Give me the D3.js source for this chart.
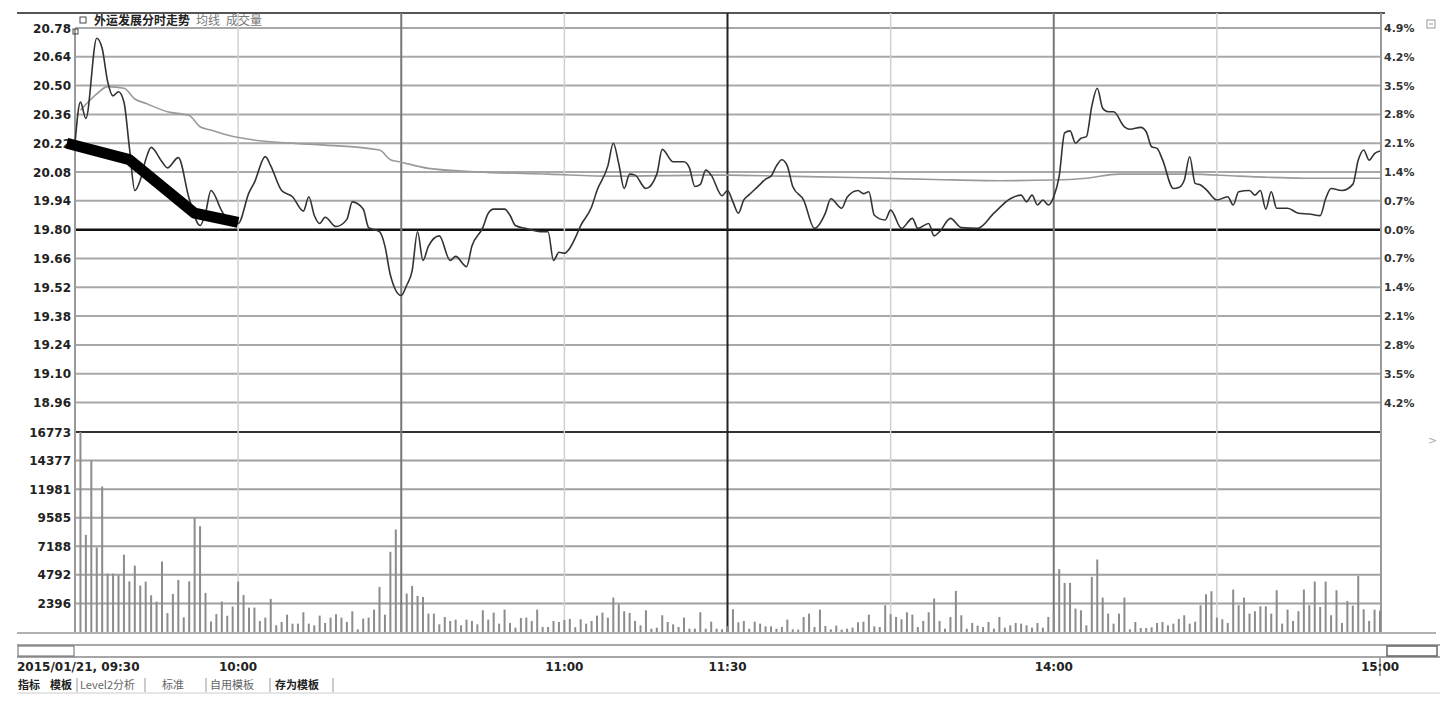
<!DOCTYPE html>
<html>
<head>
<meta charset="utf-8">
<script src="https://cdn.jsdelivr.net/npm/d3@7"></script>
<style>
  body { margin: 0; background: #fff; }
  svg text { font-family: "DejaVu Sans", sans-serif; }
</style>
</head>
<body>
<svg id="chart"></svg>
<script>
// ticks and labels
const priceTicks = [20.78, 20.64, 20.50, 20.36, 20.22, 20.08, 19.94, 19.80, 19.66, 19.52, 19.38, 19.24, 19.10, 18.96];
const pctLabels = ["4.9%", "4.2%", "3.5%", "2.8%", "2.1%", "1.4%", "0.7%", "0.0%", "0.7%", "1.4%", "2.1%", "2.8%", "3.5%", "4.2%"];
const prevClose = 19.80;
const volTicks = [16773, 14377, 11981, 9585, 7188, 4792, 2396];
const timeTicks = [0, 30, 90, 120, 180, 240];
const timeLabels = ["2015/01/21, 09:30", "10:00", "11:00", "11:30", "14:00", "15:00"];
// vertical grid: minute, kind
const vMinutes = [30, 60, 90, 120, 150, 180, 210];
const vKinds = ["light", "dark", "light", "black", "light", "dark", "light"];

// price line (trading minute from 09:30, price)
const priceMin = [0, 1, 2, 4, 5, 6, 7, 8, 9, 10, 11, 12, 13, 14, 16, 17, 19, 21, 23, 24, 25, 27, 28, 30,
  32, 33, 35, 36, 38, 40, 42, 43, 44, 45, 46, 48, 50, 51, 53, 54, 56, 57, 58, 60, 61, 62, 63, 64, 65, 67,
  69, 70, 72, 73, 75, 76, 77, 79, 80, 81, 83, 86, 87, 88, 89, 90, 91, 92, 93, 95, 96, 98, 99, 100, 101,
  102, 103, 105, 107, 108, 110, 112, 113, 114, 115, 116, 117, 119, 120, 121, 122, 123, 124, 126, 127,
  128, 129, 130, 131, 132, 134, 136, 138, 139, 141, 142, 144, 145, 146, 147, 149, 150, 152, 154, 155,
  157, 158, 159, 161, 163, 166, 169, 172, 174, 175, 176, 177, 178, 179, 180, 181, 182, 183, 184, 185,
  186, 187, 188, 189, 190, 191, 193, 194, 196, 197, 198, 199, 200, 202, 203, 204, 205, 206, 207, 208,
  210, 212, 213, 214, 216, 217, 218, 219, 220, 221, 223, 225, 227, 229, 230, 231, 233, 235, 236, 237,
  238, 239, 240];
const priceVal = [20.22, 20.42, 20.34, 20.73, 20.68, 20.52, 20.45, 20.47, 20.42, 20.20, 19.99, 20.04,
  20.14, 20.20, 20.13, 20.10, 20.15, 19.95, 19.82, 19.88, 19.99, 19.89, 19.85, 19.83,
  19.98, 20.03, 20.155, 20.11, 19.99, 19.96, 19.89, 19.96, 19.87, 19.83, 19.86, 19.815, 19.85, 19.935,
  19.90, 19.81, 19.79, 19.72, 19.58, 19.48, 19.53, 19.60, 19.79, 19.65, 19.72, 19.77,
  19.65, 19.67, 19.62, 19.72, 19.81, 19.88, 19.90, 19.90, 19.87, 19.82, 19.805, 19.79, 19.79, 19.65,
  19.69, 19.685, 19.71, 19.76, 19.82, 19.91, 19.99, 20.11, 20.22, 20.12, 20.00,
  20.07, 20.065, 20.00, 20.07, 20.19, 20.13, 20.13, 20.10, 20.01, 20.02, 20.09, 20.065, 19.965, 19.99,
  19.935, 19.88, 19.945, 19.97, 20.02, 20.046,
  20.06, 20.11, 20.14, 20.11, 20.01, 19.944, 19.806, 19.88, 19.95, 19.904, 19.957, 19.99, 19.975,
  19.984, 19.87, 19.847, 19.895, 19.806, 19.855, 19.806,
  19.83, 19.77, 19.79, 19.855, 19.81, 19.806, 19.88, 19.95, 19.968, 19.935, 19.968, 19.92, 19.944,
  19.92, 19.96, 20.06, 20.27, 20.28, 20.22, 20.244,
  20.252, 20.40, 20.487, 20.39, 20.373, 20.373, 20.30, 20.288, 20.297, 20.276, 20.203, 20.195, 20.14,
  20.00, 20.005, 20.04, 20.154, 20.025, 20.017, 19.996,
  19.944, 19.96, 19.92, 19.984, 19.99, 19.968, 19.99, 19.90, 19.984, 19.904, 19.904, 19.88, 19.876,
  19.868, 19.95, 20.00, 19.99, 20.02, 20.138, 20.187,
  20.138, 20.17, 20.182];

// average price line
const avgMin = [1, 4, 6, 9, 11, 13, 17, 21, 23, 25, 28, 34, 40, 46, 56, 58, 60, 65, 74, 87, 99, 117,
  120, 130, 145, 158, 170, 180, 186, 192, 205, 214, 226, 240];
const avgVal = [20.38, 20.46, 20.495, 20.487, 20.435, 20.414, 20.373, 20.355, 20.30, 20.284, 20.26,
  20.232, 20.22, 20.211, 20.187, 20.14, 20.128, 20.098, 20.081, 20.07, 20.06, 20.065,
  20.065, 20.06, 20.052, 20.044, 20.038, 20.041, 20.05, 20.07, 20.07, 20.06, 20.05, 20.05];

// volume per minute, 09:31 .. 15:00
const volume = [16773, 8150, 14380, 7090, 12200, 4900, 4900, 4760, 6480, 4240,
  5570, 3890, 4220, 3080, 2550, 5920, 1580, 3190, 4370, 1230,
  4240, 9570, 8870, 3280, 880, 1510, 2560, 1360, 2140, 4230,
  3100, 2045, 2045, 925, 1205, 2774, 560, 840, 1457, 700,
  700, 1653, 700, 560, 1373, 756, 1205, 1485, 1205, 840,
  1737, 224, 1121, 1205, 1877, 3783, 1457, 6725, 8602, 2300,
  3222, 3867, 3026, 2942, 1541, 1541, 644, 1261, 925, 1037,
  560, 1037, 925, 644, 1821, 1037, 1625, 700, 1877, 756,
  364, 1177, 1205, 925, 1877, 420, 420, 925, 840, 1000,
  1093, 400, 1065, 700, 925, 1373, 1625, 1205, 2886, 2326,
  1737, 1597, 925, 560, 1821, 280, 364, 1401, 840, 644,
  420, 1205, 280, 280, 1653, 280, 868, 280, 224, 500,
  1905, 812, 925, 280, 868, 700, 476, 476, 280, 420,
  1037, 224, 200, 1261, 1541, 420, 1877, 504, 224, 532,
  200, 280, 364, 812, 868, 1457, 476, 420, 2242, 1500,
  1261, 1065, 1653, 1457, 420, 925, 1653, 2802, 925, 280,
  1261, 3446, 1401, 280, 756, 532, 420, 840, 280, 1261,
  364, 560, 756, 700, 560, 364, 756, 364, 1261, 1500,
  5268, 4119, 4119, 1961, 1821, 560, 4623, 6080, 2886, 1541,
  700, 1541, 2886, 224, 840, 336, 336, 392, 756, 840,
  560, 700, 1093, 1401, 700, 868, 2242, 3166, 3418, 1200,
  1065, 756, 3558, 2242, 2886, 1541, 1737, 2158, 2158, 1541,
  3502, 700, 1877, 925, 1737, 3558, 2242, 4231, 2102, 4231,
  1401, 3502, 756, 2606, 2214, 4707, 1905, 925, 1877, 1800];

// hand-drawn thick marker
const markMin = [-1.5, 10, 22, 30];
const markVal = [20.22, 20.14, 19.88, 19.835];

const W = 1448, H = 703;
const svg = d3.select("#chart").attr("width", W).attr("height", H);

const x = d3.scaleLinear().domain([0, 240]).range([75, 1380]);
const yP = d3.scaleLinear().domain([20.78, 18.96]).range([28, 402.5]);
const yV = d3.scaleLinear().domain([0, 16773]).range([632, 432]);

// top border
svg.append("line").attr("x1", 17).attr("x2", 1385).attr("y1", 13).attr("y2", 13)
  .attr("stroke", "#555").attr("stroke-width", 2);

// price horizontal grid
svg.append("g").selectAll("line").data(priceTicks).enter().append("line")
  .attr("x1", x(0)).attr("x2", x(240))
  .attr("y1", d => yP(d)).attr("y2", d => yP(d))
  .attr("stroke", d => d === prevClose ? "#111" : "#a8a8a8")
  .attr("stroke-width", d => d === prevClose ? 2.5 : 2);

// volume horizontal grid
svg.append("g").selectAll("line").data(volTicks).enter().append("line")
  .attr("x1", x(0)).attr("x2", x(240))
  .attr("y1", d => yV(d)).attr("y2", d => yV(d))
  .attr("stroke", (d, i) => i === 0 ? "#333" : "#a0a0a0")
  .attr("stroke-width", 2);

// vertical grid
const vColor = { light: "#d0d0d0", dark: "#777", black: "#222" };
svg.append("g").selectAll("line").data(vMinutes).enter().append("line")
  .attr("x1", d => x(d)).attr("x2", d => x(d))
  .attr("y1", 13).attr("y2", 632)
  .attr("stroke", (d, i) => vColor[vKinds[i]])
  .attr("stroke-width", (d, i) => vKinds[i] === "light" ? 1.5 : 2);

// axes frame
svg.append("line").attr("x1", x(0)).attr("x2", x(0)).attr("y1", 29).attr("y2", 632)
  .attr("stroke", "#999").attr("stroke-width", 2);
svg.append("line").attr("x1", x(240) + 1).attr("x2", x(240) + 1).attr("y1", 13).attr("y2", 632)
  .attr("stroke", "#999").attr("stroke-width", 2);

// left price labels
svg.append("g").selectAll("text").data(priceTicks).enter().append("text")
  .attr("x", 71).attr("y", d => yP(d) + 4.5)
  .attr("text-anchor", "end").attr("font-size", 12).attr("font-weight", "bold")
  .attr("fill", "#222").text(d => d.toFixed(2));

// right percent labels
svg.append("g").selectAll("text").data(pctLabels).enter().append("text")
  .attr("x", 1384).attr("y", (d, i) => yP(priceTicks[i]) + 4)
  .attr("font-size", 11).attr("font-weight", "bold")
  .attr("fill", "#333").text(d => d);

// volume labels
svg.append("g").selectAll("text").data(volTicks).enter().append("text")
  .attr("x", 71).attr("y", d => yV(d) + 4.5)
  .attr("text-anchor", "end").attr("font-size", 12).attr("font-weight", "bold")
  .attr("fill", "#222").text(d => d);

// volume bars
svg.append("g").selectAll("rect").data(volume).enter().append("rect")
  .attr("x", (d, i) => x(i + 1) - 1)
  .attr("width", 2)
  .attr("y", d => yV(d))
  .attr("height", d => yV(0) - yV(d))
  .attr("fill", "#8c8c8c");

// average line
const line = d3.line().x(d => x(d[0])).y(d => yP(d[1]));
svg.append("path").datum(avgMin.map((m, i) => [m, avgVal[i]]))
  .attr("d", line.curve(d3.curveMonotoneX)).attr("fill", "none")
  .attr("stroke", "#9a9a9a").attr("stroke-width", 1.6);

// price line
svg.append("path").datum(priceMin.map((m, i) => [m, priceVal[i]]))
  .attr("d", line.curve(d3.curveMonotoneX)).attr("fill", "none")
  .attr("stroke", "#333").attr("stroke-width", 1.6).attr("stroke-linejoin", "round");

// thick marker
svg.append("path").datum(markMin.map((m, i) => [m, markVal[i]]))
  .attr("d", line.curve(d3.curveLinear))
  .attr("fill", "none").attr("stroke", "#000").attr("stroke-width", 11)
  .attr("stroke-linecap", "butt").attr("stroke-linejoin", "round");

// header
svg.append("rect").attr("x", 80).attr("y", 17).attr("width", 6).attr("height", 6)
  .attr("fill", "none").attr("stroke", "#444").attr("stroke-width", 1);
svg.append("rect").attr("x", 73).attr("y", 29).attr("width", 5).attr("height", 5)
  .attr("fill", "none").attr("stroke", "#444").attr("stroke-width", 1);
const head = svg.append("text").attr("x", 94).attr("y", 25)
  .attr("font-size", 12).style("font-family", "'Noto Sans CJK SC', sans-serif");
head.append("tspan").attr("fill", "#222").attr("font-weight", "bold").text("外运发展分时走势");
head.append("tspan").attr("fill", "#777").attr("dx", 6).text("均线");
head.append("tspan").attr("fill", "#777").attr("dx", 6).text("成交量");

// right side small marks
svg.append("rect").attr("x", 1427).attr("y", 20).attr("width", 8).attr("height", 8)
  .attr("fill", "none").attr("stroke", "#999").attr("stroke-width", 1);
svg.append("line").attr("x1", 1429).attr("x2", 1433).attr("y1", 24).attr("y2", 24)
  .attr("stroke", "#999");
svg.append("text").attr("x", 1428).attr("y", 444).attr("font-size", 11)
  .attr("fill", "#aaa").text(">");

// bottom bands
svg.append("line").attr("x1", 17).attr("x2", 1436).attr("y1", 633).attr("y2", 633)
  .attr("stroke", "#b0b0b0").attr("stroke-width", 2);
svg.append("line").attr("x1", 17).attr("x2", 1440).attr("y1", 645).attr("y2", 645)
  .attr("stroke", "#a8a8a8").attr("stroke-width", 2);
svg.append("line").attr("x1", 17).attr("x2", 1440).attr("y1", 657).attr("y2", 657)
  .attr("stroke", "#888").attr("stroke-width", 1.5);
svg.append("rect").attr("x", 18).attr("y", 646).attr("width", 56).attr("height", 10)
  .attr("fill", "#fff").attr("stroke", "#666").attr("stroke-width", 1);
svg.append("rect").attr("x", 1387).attr("y", 646).attr("width", 50).attr("height", 10)
  .attr("fill", "#fff").attr("stroke", "#666").attr("stroke-width", 1.5);

// time labels
svg.append("g").selectAll("text").data(timeTicks).enter().append("text")
  .attr("x", (d, i) => i === 0 ? 17 : x(d))
  .attr("y", 671)
  .attr("text-anchor", (d, i) => i === 0 ? "start" : "middle")
  .attr("font-size", 12).attr("font-weight", "bold").attr("fill", "#222")
  .text((d, i) => timeLabels[i]);
svg.append("line").attr("x1", x(240)).attr("x2", x(240)).attr("y1", 658).attr("y2", 676)
  .attr("stroke", "#555").attr("stroke-width", 1);

// bottom tabs
const tabs = [
  { t: "指标", x: 18, b: true },
  { t: "模板", x: 50, b: true },
  { t: "Level2分析", x: 80, b: false },
  { t: "标准", x: 162, b: false },
  { t: "自用模板", x: 210, b: false },
  { t: "存为模板", x: 275, b: true }
];
svg.append("g").selectAll("text").data(tabs).enter().append("text")
  .attr("x", d => d.x).attr("y", 689)
  .attr("font-size", 11).style("font-family", "'Noto Sans CJK SC', sans-serif")
  .attr("font-weight", d => d.b ? "bold" : "normal")
  .attr("fill", d => d.b ? "#222" : "#666").text(d => d.t);
svg.append("g").selectAll("line").data([77, 145, 206, 270, 333]).enter().append("line")
  .attr("x1", d => d).attr("x2", d => d).attr("y1", 678).attr("y2", 692)
  .attr("stroke", "#999").attr("stroke-width", 1);
svg.append("line").attr("x1", 17).attr("x2", 1440).attr("y1", 693).attr("y2", 693)
  .attr("stroke", "#ccc").attr("stroke-width", 1);
</script>
</body>
</html>
